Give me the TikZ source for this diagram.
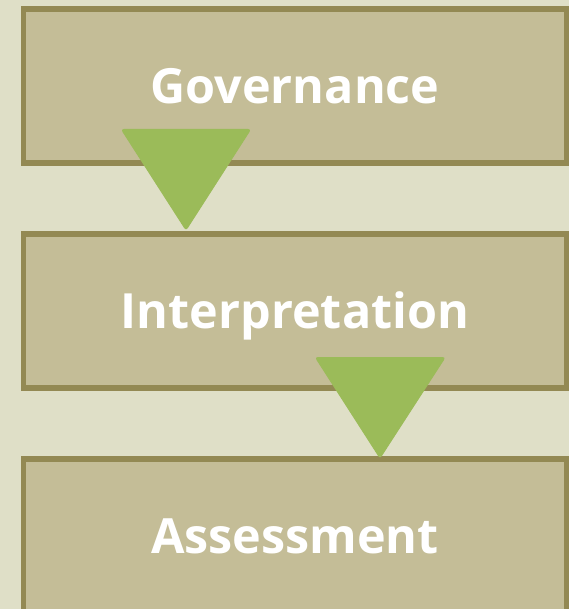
\documentclass[tikz,border=0pt]{standalone}
\usepackage{fontspec}
\setmainfont{Open Sans}
\definecolor{bgc}{HTML}{DFDFC7}
\definecolor{boxfill}{HTML}{C4BD97}
\definecolor{boxline}{HTML}{938953}
\definecolor{arrowc}{HTML}{9BBB59}
\begin{document}
\begin{tikzpicture}[x=1pt,y=-1pt,
  stagebox/.style={rectangle, fill=boxfill, draw=boxline, line width=5.5pt,
    minimum width=543pt, minimum height=154pt, inner sep=0pt,
    text height=34.5pt, text depth=0pt,
    text=white, font=\fontsize{48.5}{55}\selectfont\bfseries},
  downarrow/.style={fill=arrowc, draw=arrowc, line width=1pt, rounded corners=2.5pt}]
\useasboundingbox (0,0) rectangle (569,609);
\clip (0,0) rectangle (569,609);
\fill[bgc] (0,0) rectangle (569,609);
\node[stagebox] (gov) at (295,86) {Governance};
\node[stagebox] (int) at (295,311) {Interpretation};
\node[stagebox] (ass) at (295,536) {Assessment};
\coordinate (t1a) at (121.5,129.5);
\coordinate (t1b) at (250.5,129.5);
\coordinate (t1c) at (186,230);
\coordinate (t2a) at (315.5,357.5);
\coordinate (t2b) at (445,357.5);
\coordinate (t2c) at (380,458);
\filldraw[downarrow] (t1a) -- (t1b) -- (t1c) -- cycle;
\filldraw[downarrow] (t2a) -- (t2b) -- (t2c) -- cycle;
\end{tikzpicture}
\end{document}
